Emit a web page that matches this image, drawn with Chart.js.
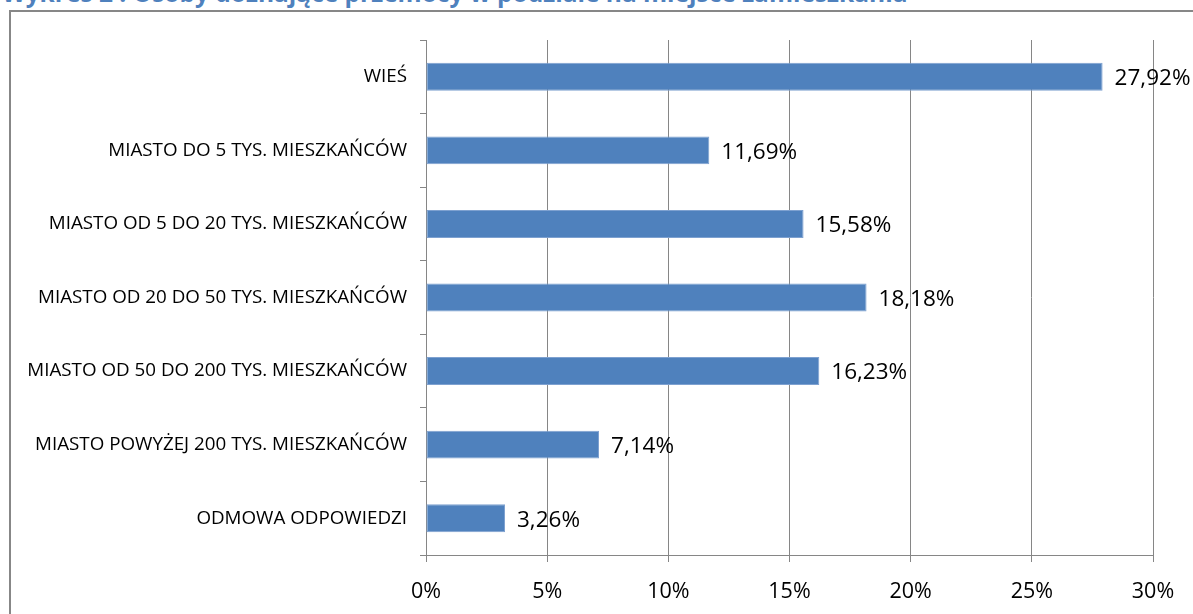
<!DOCTYPE html>
<html lang="pl">
<head>
<meta charset="utf-8">
<title>Wykres 2</title>
<script src="https://cdn.jsdelivr.net/npm/chart.js@4/dist/chart.umd.min.js"></script>
<style>
  html, body { margin: 0; padding: 0; background: #fff; overflow: hidden; }
  #wrap { position: relative; width: 1193px; height: 614px; overflow: hidden; }
  #title {
    position: absolute; left: 2px; top: -19px;
    font: bold 24.5px 'Open Sans', sans-serif; line-height: 24.5px;
    color: #4f81bd; white-space: nowrap;
  }
  #frame {
    position: absolute; left: 9px; top: 10px; width: 1200px; height: 620px;
    border: 2px solid #878787; box-sizing: border-box;
  }
  #chart { position: absolute; left: 0; top: 0; }
</style>
</head>
<body>
<div id="wrap">
  <div id="title">Wykres 2 : Osoby doznające przemocy w podziale na miejsce zamieszkania</div>
  <div id="frame"></div>
  <canvas id="chart" width="1193" height="614"></canvas>
</div>
<script>
// dane
const categories = [
  'WIEŚ',
  'MIASTO DO 5 TYS. MIESZKAŃCÓW',
  'MIASTO OD 5 DO 20 TYS. MIESZKAŃCÓW',
  'MIASTO OD 20 DO 50 TYS. MIESZKAŃCÓW',
  'MIASTO OD 50 DO 200 TYS. MIESZKAŃCÓW',
  'MIASTO POWYŻEJ 200 TYS. MIESZKAŃCÓW',
  'ODMOWA ODPOWIEDZI'
];
const values = [27.92, 11.69, 15.58, 18.18, 16.23, 7.14, 3.26];
const xTicks = [0, 5, 10, 15, 20, 25, 30];

const FONT = "'Open Sans'";
const GRID = '#868686';

const fmt = v => v.toFixed(2).replace('.', ',') + '%';

// etykiety wartości przy końcach słupków
const valueLabels = {
  id: 'valueLabels',
  afterDatasetsDraw(chart) {
    const { ctx } = chart;
    const meta = chart.getDatasetMeta(0);
    ctx.save();
    ctx.font = `22.5px ${FONT}`;
    ctx.fillStyle = '#000';
    ctx.textAlign = 'left';
    ctx.textBaseline = 'middle';
    meta.data.forEach((bar, i) => {
      ctx.fillText(fmt(values[i]), bar.x + 12, bar.y + 2);
    });
    ctx.restore();
  }
};

new Chart(document.getElementById('chart'), {
  type: 'bar',
  data: {
    labels: categories,
    datasets: [{
      data: values,
      backgroundColor: '#4f81bd',
      borderColor: '#7ea1d0',
      borderWidth: 1,
      borderSkipped: false,
      categoryPercentage: 1,
      barPercentage: 0.38
    }]
  },
  options: {
    indexAxis: 'y',
    responsive: false,
    devicePixelRatio: 1,
    animation: false,
    layout: { padding: { top: 40, right: 40, left: 0, bottom: 0 } },
    plugins: {
      legend: { display: false },
      tooltip: { enabled: false }
    },
    scales: {
      x: {
        type: 'linear',
        min: 0,
        max: 30,
        afterBuildTicks: s => { s.ticks = xTicks.map(v => ({ value: v })); },
        afterFit: s => { s.height = 59; },
        grid: { color: GRID, lineWidth: 1, tickLength: 7, drawTicks: true },
        border: { display: true, color: GRID, width: 1 },
        ticks: {
          callback: v => v + '%',
          font: { family: FONT, size: 21.5 },
          color: '#000',
          padding: 17
        }
      },
      y: {
        afterFit: s => { s.width = 426; },
        grid: { drawOnChartArea: false, drawTicks: true, tickLength: 6, color: GRID, offset: true },
        border: { display: true, color: GRID, width: 1 },
        ticks: {
          font: { family: FONT, size: 18.8 },
          color: '#000',
          padding: 13
        }
      }
    }
  },
  plugins: [valueLabels]
});
</script>
</body>
</html>
